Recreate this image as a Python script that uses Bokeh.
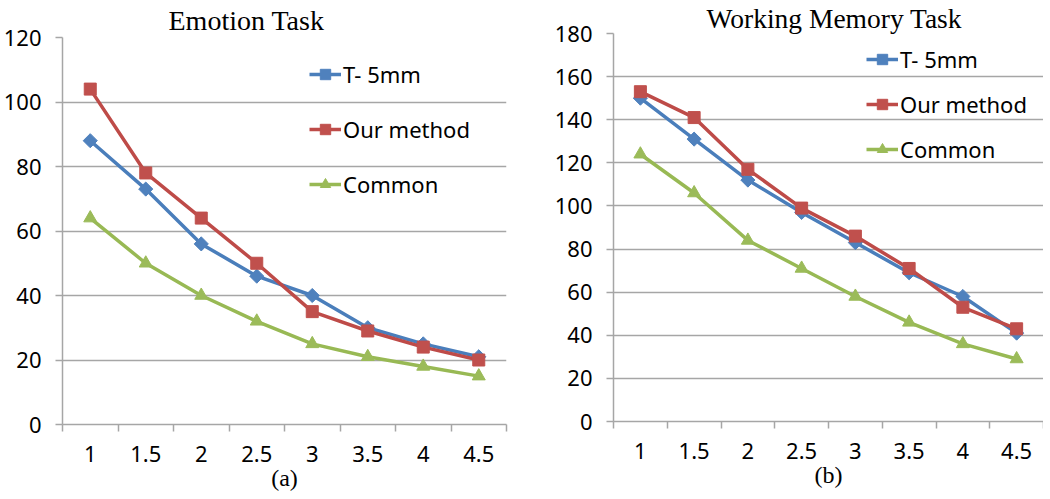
from bokeh.plotting import figure
from bokeh.models import (Range1d, FixedTicker, SingleIntervalTicker, Legend,
                          LegendItem)
from bokeh.layouts import row, column
from bokeh.embed import file_html
from bokeh.resources import INLINE
import numpy as np

cats = ["1", "1.5", "2", "2.5", "3", "3.5", "4", "4.5"]
emotion_t5 = [88, 73, 56, 46, 40, 30, 25, 21]
emotion_ours = [104, 78, 64, 50, 35, 29, 24, 20]
emotion_common = [64, 50, 40, 32, 25, 21, 18, 15]
wm_t5 = [150, 131, 112, 97, 83, 69, 58, 41]
wm_ours = [153, 141, 117, 99, 86, 71, 53, 43]
wm_common = [124, 106, 84, 71, 58, 46, 36, 29]
series_names = ["T- 5mm", "Our method", "Common"]

LINE_COLORS = ["#4A7EBB", "#BE4B48", "#98B954"]
FILL_COLORS = ["#4F81BD", "#C0504D", "#9BBB59"]
MARKERS = ["square", "square", "triangle"]
ANGLES = [np.pi / 4, 0, 0]
SIZES = [10, 12, 13]
GRAY = "#A6A6A6"
TICK_FONT = "Noto Sans"
SERIF = "Liberation Serif"

xs = list(range(1, len(cats) + 1))


def make_chart(title, sub, ymax, data, fw, fh, bl, br, bt, bb, title_off,
               title_standoff, title_size, leg_loc, leg_spacing):
    p = figure(frame_width=fw, frame_height=fh, output_backend="svg",
               toolbar_location=None, x_range=Range1d(0.5, len(cats) + 0.5),
               y_range=Range1d(0, ymax), min_border_left=bl,
               min_border_right=br, min_border_top=bt, min_border_bottom=bb)
    p.outline_line_color = None
    p.background_fill_color = "white"
    p.border_fill_color = "white"

    p.title.text = title
    p.title.text_font = SERIF
    p.title.text_font_size = title_size
    p.title.text_font_style = "normal"
    p.title.text_color = "#000000"
    p.title.text_line_height = 1.0
    p.title.align = "left"
    p.title.offset = title_off
    p.title.standoff = title_standoff

    xa = p.xaxis[0]
    xa.ticker = FixedTicker(ticks=xs, minor_ticks=[x - 0.5 for x in xs] + [xs[-1] + 0.5])
    xa.major_label_overrides = {x: c for x, c in zip(xs, cats)}
    xa.major_tick_line_color = None
    xa.minor_tick_out = 7
    xa.minor_tick_in = 0
    xa.minor_tick_line_color = GRAY
    xa.minor_tick_line_width = 1.5
    xa.axis_line_color = GRAY
    xa.axis_line_width = 1.5
    xa.major_label_text_font = TICK_FONT
    xa.major_label_text_font_size = "22px"
    xa.major_label_text_color = "#000000"
    xa.major_label_standoff = 14
    xa.axis_label = sub
    xa.axis_label_text_font = SERIF
    xa.axis_label_text_font_size = "24px"
    xa.axis_label_text_font_style = "normal"
    xa.axis_label_text_color = "#000000"
    xa.axis_label_standoff = 0

    ya = p.yaxis[0]
    ya.ticker = SingleIntervalTicker(interval=20, num_minor_ticks=0)
    ya.major_tick_out = 7
    ya.major_tick_in = 0
    ya.major_tick_line_color = GRAY
    ya.major_tick_line_width = 1.5
    ya.minor_tick_line_color = None
    ya.axis_line_color = GRAY
    ya.axis_line_width = 1.5
    ya.major_label_text_font = TICK_FONT
    ya.major_label_text_font_size = "22px"
    ya.major_label_text_color = "#000000"
    ya.major_label_standoff = 14

    p.xgrid.grid_line_color = None
    p.ygrid.grid_line_color = GRAY
    p.ygrid.grid_line_width = 1.5

    items = []
    for name, ys, lc, fc, mk, ang, sz in zip(series_names, data, LINE_COLORS,
                                             FILL_COLORS, MARKERS, ANGLES, SIZES):
        ln = p.line(xs, ys, line_color=lc, line_width=3.5)
        sc = p.scatter(xs, ys, marker=mk, size=sz, angle=ang, fill_color=fc,
                       line_color=fc, line_width=1)
        items.append(LegendItem(label=name, renderers=[ln, sc]))

    leg = Legend(items=items, location=leg_loc, orientation="vertical")
    leg.border_line_color = None
    leg.background_fill_alpha = 0
    leg.padding = 0
    leg.margin = 0
    leg.spacing = leg_spacing
    leg.glyph_width = 32
    leg.glyph_height = 26
    leg.label_height = 26
    leg.label_standoff = 2
    leg.label_text_font = TICK_FONT
    leg.label_text_font_size = "22px"
    leg.label_text_color = "#000000"
    leg.label_text_baseline = "middle"
    p.add_layout(leg, "center")
    return p


p1 = make_chart("Emotion Task", "(a)", 120,
                [emotion_t5, emotion_ours, emotion_common],
                fw=444, fh=387, bl=58, br=35, bt=36, bb=66, title_off=106,
                title_standoff=4, title_size="28px", leg_loc=(247, 225),
                leg_spacing=25)
p2 = make_chart("Working Memory Task", "(b)", 180,
                [wm_t5, wm_ours, wm_common],
                fw=430, fh=388, bl=72, br=0, bt=31, bb=70, title_off=93,
                title_standoff=0, title_size="27.5px", leg_loc=(253, 257),
                leg_spacing=15)

layout = row(column(p1), column(p2), spacing=0)
open("out.html", "w").write(file_html(layout, INLINE))
